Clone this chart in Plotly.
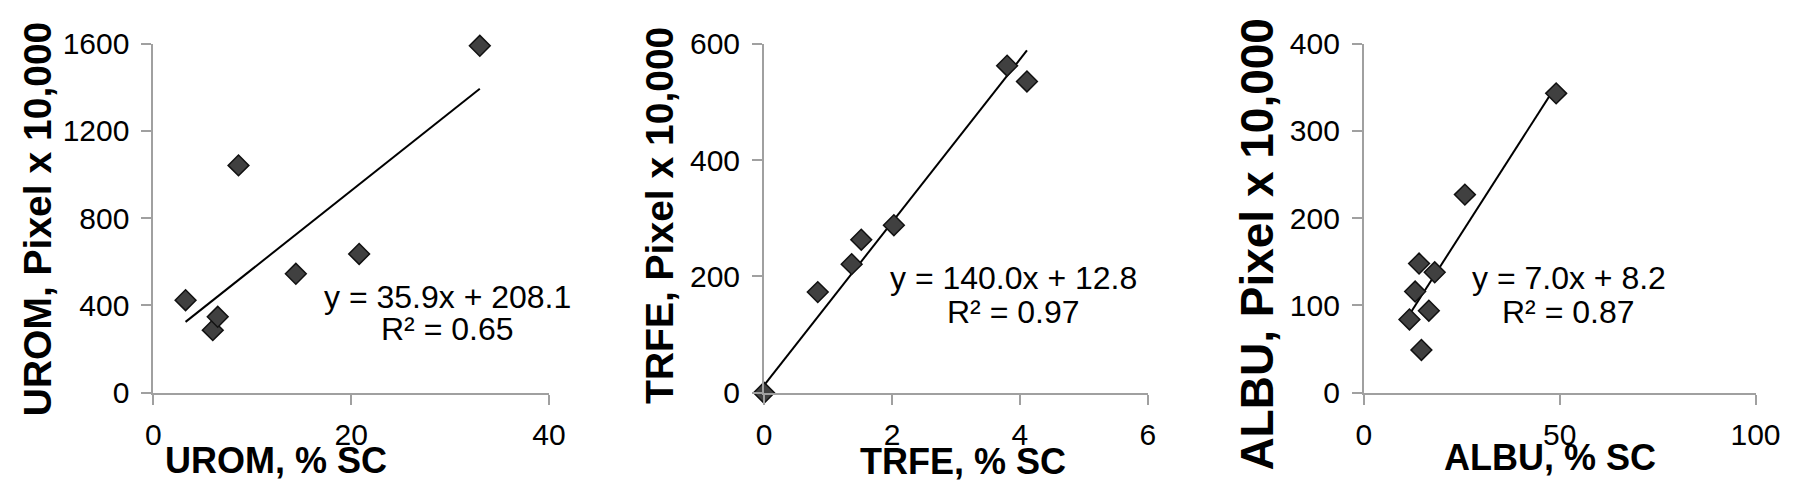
import plotly.graph_objects as go

# ---- data ----
urom_x = [3.25, 6.0, 6.5, 8.6, 14.4, 20.8, 33.0]
urom_y = [424, 287, 348, 1042, 545, 636, 1590]
urom_fit = [35.9, 208.1]  # slope, intercept
urom_r2 = 0.65

trfe_x = [0.0, 0.84, 1.37, 1.52, 2.03, 3.80, 4.11]
trfe_y = [0, 173, 221, 263, 288, 562, 535]
trfe_fit = [140.0, 12.8]
trfe_r2 = 0.97

albu_x = [11.65, 13.1, 14.1, 14.7, 16.6, 18.1, 25.8, 49.1]
albu_y = [84, 116, 148, 49, 94, 138, 227, 343]
albu_fit = [7.0, 8.2]
albu_r2 = 0.87

names = ["UROM", "TRFE", "ALBU"]
x_ranges = [[0, 40], [0, 6], [0, 100]]
x_dticks = [20, 2, 50]
y_ranges = [[0, 1600], [0, 600], [0, 400]]
y_dticks = [400, 200, 100]

W, H = 1800, 493
FONT = "Liberation Sans, Arial, sans-serif"
AXIS_GRAY = "#a0a0a0"

panels = [(urom_x, urom_y, urom_fit, urom_r2),
          (trfe_x, trfe_y, trfe_fit, trfe_r2),
          (albu_x, albu_y, albu_fit, albu_r2)]

# pixel layout of plot areas
x_px = [(140, 543), (762, 1153), (1373, 1772)]
y_px = (20, 395)

def px(x):
    return x / W

def py(y):
    return 1 - y / H

fig = go.Figure()
layout = dict(width=W, height=H, margin=dict(l=0, r=0, t=0, b=0),
              paper_bgcolor="white", plot_bgcolor="white", showlegend=False,
              font=dict(family=FONT, color="black"))

for i, (xs, ys, fit, r2) in enumerate(panels):
    sfx = "" if i == 0 else str(i + 1)
    xa, ya = "x" + sfx, "y" + sfx
    lo, hi = min(xs), max(xs)
    fig.add_trace(go.Scatter(x=[lo, hi], y=[fit[0] * lo + fit[1], fit[0] * hi + fit[1]],
                             mode="lines", line=dict(color="black", width=2),
                             xaxis=xa, yaxis=ya, cliponaxis=False, hoverinfo="skip"))
    fig.add_trace(go.Scatter(x=xs, y=ys, mode="markers",
                             marker=dict(symbol="diamond", size=16, color="#404040",
                                         line=dict(color="#111111", width=1.5)),
                             xaxis=xa, yaxis=ya, cliponaxis=False))
    common = dict(showline=True, linecolor=AXIS_GRAY, linewidth=2, showgrid=False,
                  zeroline=False, ticks="outside", ticklen=10, tickwidth=2,
                  tickcolor=AXIS_GRAY, tickfont=dict(size=30, family=FONT, color="black"))
    layout["xaxis" + sfx] = dict(domain=[px(x_px[i][0]), px(x_px[i][1])],
                                 range=x_ranges[i], dtick=x_dticks[i], tick0=0,
                                 anchor=ya, ticklabelstandoff=4, **common)
    layout["yaxis" + sfx] = dict(domain=[py(y_px[1]), py(y_px[0])],
                                 range=y_ranges[i], dtick=y_dticks[i], tick0=0,
                                 anchor=xa, ticklabelstandoff=6, **common)

annotations = []
# y-axis titles (rotated)
ytitle_pos = [(22, 208, 39), (656, 204, 39), (1264, 235, 46)]
for name, (cx, cy, fs) in zip(names, ytitle_pos):
    annotations.append(dict(text=f"<b>{name}, Pixel x 10,000</b>", x=px(cx), y=py(cy),
                            xref="paper", yref="paper", textangle=-90, showarrow=False,
                            xanchor="center", yanchor="middle",
                            font=dict(size=fs, family=FONT, color="black")))
# x-axis titles
xtitle_pos = [(265, 468), (965, 469), (1563, 464)]
for name, (cx, cy) in zip(names, xtitle_pos):
    annotations.append(dict(text=f"<b>{name}, % SC</b>", x=px(cx), y=py(cy),
                            xref="paper", yref="paper", showarrow=False,
                            xanchor="center", yanchor="middle",
                            font=dict(size=36, family=FONT, color="black")))
# equations
eq_pos = [(440, 292, 327), (1016, 272, 308), (1582, 272, 308)]
for (xs, ys, fit, r2), (cx, y1, y2) in zip(panels, eq_pos):
    annotations.append(dict(text=f"y = {fit[0]:.1f}x + {fit[1]:.1f}", x=px(cx), y=py(y1),
                            xref="paper", yref="paper", showarrow=False,
                            xanchor="center", yanchor="middle",
                            font=dict(size=32, family=FONT, color="black")))
    annotations.append(dict(text=f"R² = {r2:.2f}", x=px(cx), y=py(y2),
                            xref="paper", yref="paper", showarrow=False,
                            xanchor="center", yanchor="middle",
                            font=dict(size=32, family=FONT, color="black")))
layout["annotations"] = annotations

fig.update_layout(**layout)
fig.write_html("out.html")
